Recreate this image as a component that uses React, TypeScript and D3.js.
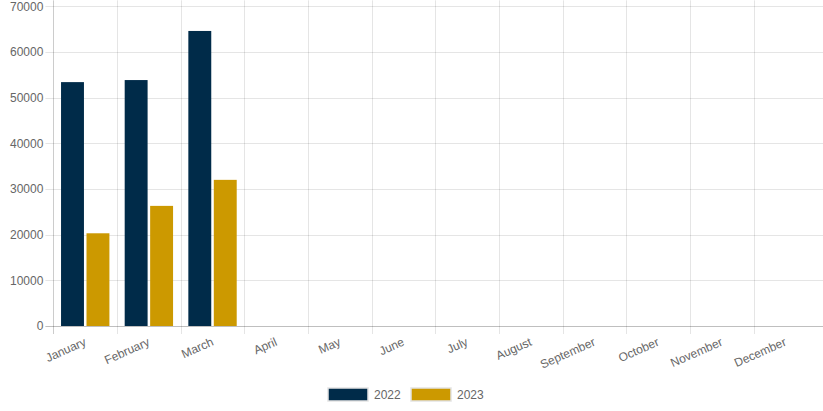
import React from "react";
import * as d3 from "d3";

const months = ["January","February","March","April","May","June","July","August","September","October","November","December"];
const series2022 = [53400, 53850, 64600];
const series2023 = [20300, 26300, 32000];
const seriesNames = ["2022", "2023"];
const seriesColors = ["#002b49", "#cc9900"];
const yTicks = [0, 10000, 20000, 30000, 40000, 50000, 60000, 70000];

const W = 823, H = 411;
const left = 53.4, right = 817.2, gridRight = 823, top = 6.3, bottom = 326;
const FONT = "'Liberation Sans', Arial, Helvetica, sans-serif";

export default function App() {
  const x = d3.scaleBand<string>().domain(months).range([left, right]).padding(0);
  const y = d3.scaleLinear().domain([0, 70000]).range([bottom, top]);
  const bw = x.bandwidth();
  const catW = bw * 0.8;
  const barSlot = catW / 2;
  const barW = barSlot * 0.9;
  const data = [series2022, series2023];
  const gridColor = "rgba(0,0,0,0.1)";
  return (
    <svg width={W} height={H} style={{ position: "absolute", left: 0, top: 0, fontFamily: FONT }}>
      {/* horizontal grid */}
      {yTicks.map((t) => (
        <g key={"h" + t}>
          <line x1={left - 8} x2={gridRight} y1={Math.round(y(t)) + 0.5} y2={Math.round(y(t)) + 0.5}
            stroke={t === 0 ? "rgba(0,0,0,0.25)" : gridColor} />
          <text x={left - 10} y={y(t)} dy="0.35em" textAnchor="end" fontSize={12} fill="#666">{t}</text>
        </g>
      ))}
      {/* vertical grid */}
      {d3.range(months.length).map((i) => {
        const xv = left + i * bw;
        return <line key={"v" + i} x1={Math.round(xv) + 0.5} x2={Math.round(xv) + 0.5} y1={top - 6} y2={bottom + 8}
          stroke={i === 0 ? "rgba(0,0,0,0.2)" : gridColor} />;
      })}
      {/* bars */}
      {data.map((vals, si) =>
        vals.map((v, mi) => {
          const x0 = (x(months[mi]) as number) + (bw - catW) / 2 + si * barSlot + (barSlot - barW) / 2;
          return <rect key={si + "-" + mi} x={x0} y={y(v)} width={barW} height={y(0) - y(v)} fill={seriesColors[si]} />;
        })
      )}
      {/* x labels */}
      {months.map((m) => {
        const cx = (x(m) as number) + bw / 2;
        const cy = bottom + 15;
        return (
          <text key={m} transform={`translate(${cx},${cy}) rotate(-24)`} textAnchor="end" dy="0.35em" fontSize={12} fill="#666">{m}</text>
        );
      })}
      {/* legend */}
      {seriesNames.map((n, i) => {
        const lx = 328 + i * 83;
        return (
          <g key={n}>
            <rect x={lx} y={388} width={40} height={13} fill={seriesColors[i]} stroke="#e3e3e3" strokeWidth={1.5} />
            <text x={lx + 46} y={394.5} dy="0.35em" fontSize={12} fill="#666">{n}</text>
          </g>
        );
      })}
    </svg>
  );
}
